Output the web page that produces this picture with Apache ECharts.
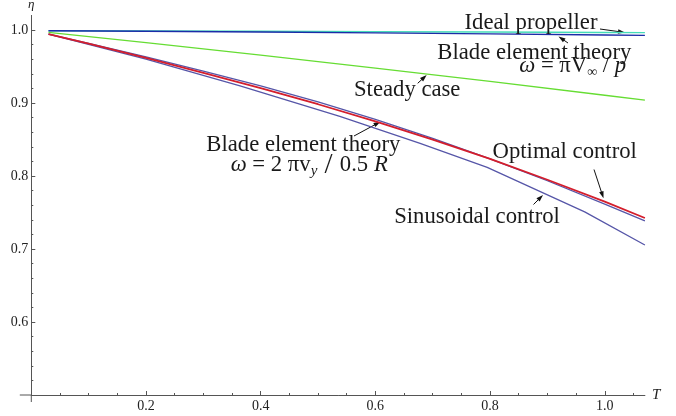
<!DOCTYPE html>
<html><head><meta charset="utf-8">
<script src="https://cdn.jsdelivr.net/npm/echarts@6/dist/echarts.min.js"></script>
<style>html,body{margin:0;padding:0;background:#fff}#c{width:676px;height:416px}</style>
</head><body><div id="c"></div>
<script>
// ---- data ----
const tIdeal   = [0.03, 0.2, 0.4, 0.6, 0.8, 1.0, 1.07];
const etaIdeal = [0.9990, 0.9986, 0.9982, 0.9977, 0.9972, 0.9966, 0.9964];

const tBet1   = [0.03, 0.2, 0.4, 0.6, 0.8, 1.0, 1.07];
const etaBet1 = [0.9990, 0.9982, 0.9972, 0.9960, 0.9947, 0.9932, 0.9926];

const tSteady   = [0.03, 0.2, 0.4, 0.6, 0.8, 1.0, 1.07];
const etaSteady = [0.9968, 0.9827, 0.9656, 0.9478, 0.9296, 0.9107, 0.9040];

const tOpt   = [0.03, 0.1, 0.2, 0.3, 0.4, 0.5, 0.6, 0.7, 0.8, 0.9, 1.0, 1.07];
const etaOpt = [0.9945, 0.9812, 0.9617, 0.9414, 0.9205, 0.8983, 0.8749, 0.8499, 0.8234, 0.7949, 0.7650, 0.7425];

const tBet2   = [0.03, 0.1, 0.2, 0.3, 0.4, 0.5, 0.6, 0.7, 0.8, 0.9, 1.0, 1.07];
const etaBet2 = [0.9945, 0.9818, 0.9632, 0.9436, 0.9235, 0.9015, 0.8775, 0.8515, 0.8236, 0.7935, 0.7615, 0.7385];

const tSin   = [0.03, 0.2, 0.364, 0.538, 0.678, 0.795, 0.965, 1.07];
const etaSin = [0.9945, 0.9600, 0.9236, 0.8816, 0.8446, 0.8117, 0.7508, 0.7055];

const xMajorTicks = [0.2, 0.4, 0.6, 0.8, 1.0];
const xMinorTicks = [0.05, 0.1, 0.15, 0.25, 0.3, 0.35, 0.45, 0.5, 0.55, 0.65, 0.7, 0.75, 0.85, 0.9, 0.95, 1.05];
const yMajorTicks = [0.6, 0.7, 0.8, 0.9, 1.0];
const yMinorTicks = [0.52, 0.54, 0.56, 0.58, 0.62, 0.64, 0.66, 0.68, 0.72, 0.74, 0.76, 0.78, 0.82, 0.84, 0.86, 0.88, 0.92, 0.94, 0.96, 0.98];

// ---- chart ----
const SERIF = '"Liberation Serif", "DejaVu Serif", serif';
const AX = '#555';
const pairs = (xs, ys) => xs.map((x, i) => [x, ys[i]]);

const chart = echarts.init(document.getElementById('c'), null, {renderer: 'canvas'});

const xBase = {type: 'value', min: 0, max: 1.07, gridIndex: 0, position: 'bottom', splitLine: {show: false}};
const yBase = {type: 'value', min: 0.5, max: 1.02, gridIndex: 0, position: 'left', splitLine: {show: false}};

function line(name, data, color, width, z) {
  return {type: 'line', name, data, xAxisIndex: 0, yAxisIndex: 0, showSymbol: false, symbol: 'none',
    lineStyle: {color, width}, z, silent: true, animation: false};
}

chart.setOption({
  animation: false,
  backgroundColor: '#fff',
  grid: {left: 31.3, top: 15.4, width: 613.6, bottom: 21, containLabel: false, outerBoundsMode: 'none'},
  xAxis: [
    Object.assign({}, xBase, {
      name: 'T', nameLocation: 'end', nameGap: 7,
      nameTextStyle: {fontFamily: SERIF, fontStyle: 'italic', fontSize: 15, color: '#222'},
      axisLine: {show: true, onZero: false, lineStyle: {color: AX, width: 1}},
      axisTick: {show: true, inside: true, length: 4, customValues: xMajorTicks, lineStyle: {color: AX}},
      axisLabel: {show: true, customValues: xMajorTicks, margin: 4, fontFamily: SERIF, fontSize: 14, color: '#222',
        formatter: v => v.toFixed(1)},
      minorTick: {show: false}
    }),
    Object.assign({}, xBase, {
      axisLine: {show: false, onZero: false},
      axisTick: {show: true, inside: true, length: 2, customValues: xMinorTicks, lineStyle: {color: AX}},
      axisLabel: {show: false}
    })
  ],
  yAxis: [
    Object.assign({}, yBase, {
      name: 'η', nameLocation: 'end', nameGap: 4,
      nameTextStyle: {fontFamily: SERIF, fontStyle: 'italic', fontSize: 13, color: '#222', align: 'center'},
      axisLine: {show: true, onZero: false, lineStyle: {color: AX, width: 1}},
      axisTick: {show: true, inside: true, length: 4, customValues: yMajorTicks, lineStyle: {color: AX}},
      axisLabel: {show: true, customValues: yMajorTicks, margin: 3, fontFamily: SERIF, fontSize: 14, color: '#222',
        formatter: v => v.toFixed(1)},
      minorTick: {show: false}
    }),
    Object.assign({}, yBase, {
      axisLine: {show: false, onZero: false},
      axisTick: {show: true, inside: true, length: 2, customValues: yMinorTicks, lineStyle: {color: AX}},
      axisLabel: {show: false}
    })
  ],
  series: [
    line('Ideal propeller', pairs(tIdeal, etaIdeal), '#45dcb8', 1.4, 2),
    line('Blade element theory ω=πV∞/p', pairs(tBet1, etaBet1), '#1c2ca8', 1.4, 3),
    line('Steady case', pairs(tSteady, etaSteady), '#66dd33', 1.4, 2),
    line('Sinusoidal control', pairs(tSin, etaSin), '#5656a8', 1.3, 2),
    line('Blade element theory ω=2πvy/0.5R', pairs(tBet2, etaBet2), '#5656a8', 1.3, 2),
    line('Optimal control', pairs(tOpt, etaOpt), '#d41e2c', 1.8, 4)
  ]
});

// ---- annotations ----
const FS = 22.7;
const fNorm = FS + 'px ' + SERIF;
function label(text, x, y) {
  return {type: 'text', x, y, z: 10, silent: true,
    style: {text, fill: '#1a1a1a', font: fNorm, align: 'center', verticalAlign: 'middle'}};
}
const rich = {
  n: {fontFamily: SERIF, fontSize: FS, lineHeight: 26, fill: '#1a1a1a', color: '#1a1a1a'},
  i: {fontFamily: SERIF, fontSize: FS, fontStyle: 'italic', lineHeight: 26, fill: '#1a1a1a', color: '#1a1a1a'},
  s: {fontFamily: SERIF, fontSize: 14, lineHeight: 14, verticalAlign: 'bottom', fill: '#1a1a1a', color: '#1a1a1a'},
  si: {fontFamily: SERIF, fontSize: 15, fontStyle: 'italic', lineHeight: 14, verticalAlign: 'bottom', fill: '#1a1a1a', color: '#1a1a1a'},
  b: {fontFamily: SERIF, fontSize: 29, lineHeight: 26, fill: '#1a1a1a', color: '#1a1a1a'}
};
function formula(text, x, y) {
  return {type: 'text', x, y, z: 10, silent: true,
    style: {text, rich, fill: '#1a1a1a', font: fNorm, align: 'center', verticalAlign: 'middle'}};
}
function arrow(x1, y1, x2, y2) {
  const dx = x2 - x1, dy = y2 - y1, L = Math.hypot(dx, dy);
  const ux = dx / L, uy = dy / L, hl = 7, hw = 2.3;
  const bx = x2 - ux * hl, by = y2 - uy * hl;
  return {type: 'group', z: 10, silent: true, children: [
    {type: 'line', shape: {x1, y1, x2: bx + ux * 2, y2: by + uy * 2}, style: {stroke: '#111', lineWidth: 1}},
    {type: 'polygon', shape: {points: [[x2, y2], [bx - uy * hw, by + ux * hw], [bx + uy * hw, by - ux * hw]]},
      style: {fill: '#111'}}
  ]};
}

const o = chart.convertToPixel({gridIndex: 0}, [0, 0.5]);
const graphics = [
  {type: 'line', silent: true, shape: {x1: o[0] - 11.5, y1: o[1], x2: o[0], y2: o[1]}, style: {stroke: AX, lineWidth: 1}},
  {type: 'line', silent: true, shape: {x1: o[0], y1: o[1], x2: o[0], y2: o[1] + 7}, style: {stroke: AX, lineWidth: 1}},
  label('Ideal propeller', 531, 23),
  label('Blade element theory', 534.3, 52.8),
  formula('{i|ω}{n| = πV}{s|∞}{n| / }{i|p}', 572.7, 66),
  label('Steady case', 407.2, 90.5),
  label('Blade element theory', 303.3, 144.7),
  formula('{i|ω}{n| = 2 πv}{si|y}{b| / }{n|0.5 }{i|R}', 309.2, 165.3),
  label('Optimal control', 564.7, 152.2),
  label('Sinusoidal control', 477, 217.5),
  arrow(600, 29, 625, 32.5),
  arrow(568, 43, 558.5, 36.5),
  arrow(417.7, 83.3, 426.7, 75),
  arrow(354, 136, 380.5, 121.7),
  arrow(594, 169.5, 603.5, 198.3),
  arrow(533.5, 204.5, 543, 195)
];
chart.setOption({graphic: graphics});
</script>
</body></html>
